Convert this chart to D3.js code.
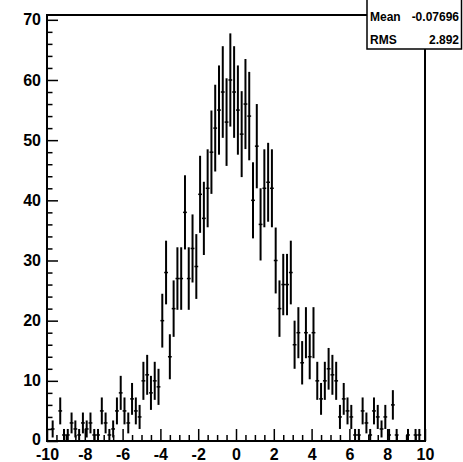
<!DOCTYPE html>
<html><head><meta charset="utf-8">
<script src="https://cdn.jsdelivr.net/npm/d3@7"></script>
<style>
html,body{margin:0;padding:0;background:#fff;}
svg{display:block;font-family:"Liberation Sans",Arial,Helvetica,sans-serif;font-weight:bold;}
</style></head>
<body>
<svg id="c" width="463" height="462"></svg>
<script>
// Histogram: 100 bins from -10 to 10 (bin width 0.2)
const binLow = -10, binHigh = 10, nBins = 100;
const counts = [
  0,2,0,5,1,1,3,2,1,3,
  2,3,1,1,5,3,1,2,5,8,
  5,3,7,5,4,10,11,8,10,9,
  20,28,14,22,27,27,38,27,32,29,
  41,37,42,48,52,55,58,53,60,58,
  55,51,56,54,40,49,36,42,43,42,
  30,22,26,26,28,16,18,13,18,14,
  18,10,7,10,12,11,10,4,7,5,
  4,1,1,5,3,1,5,4,2,4,
  1,6,1,0,0,1,0,1,1,0
];
const xMajorTicks = [-10,-8,-6,-4,-2,0,2,4,6,8,10];
const yMajorTicks = [0,10,20,30,40,50,60,70];
const statsLabels = ["Mean","RMS"];
const statsValues = ["-0.07696","2.892"];

const svg = d3.select("#c");
const L = 47, R = 425, T = 15, B = 441;
const x = d3.scaleLinear().domain([binLow, binHigh]).range([L, R]);
const y = d3.scaleLinear().domain([0, 70.8]).range([B, T]);
const bw = (binHigh - binLow) / nBins;

const bins = counts.map((c, i) => ({lo: binLow + i*bw, hi: binLow + (i+1)*bw, c}))
  .filter(d => d.c > 0);

// error bars
const g = svg.append("g").attr("stroke", "#000");
g.selectAll("line.v").data(bins).join("line").attr("class","v")
  .attr("x1", d => x((d.lo+d.hi)/2)).attr("x2", d => x((d.lo+d.hi)/2))
  .attr("y1", d => y(Math.max(0, d.c - Math.sqrt(d.c))))
  .attr("y2", d => y(d.c + Math.sqrt(d.c)))
  .attr("stroke-width", 2);
g.selectAll("line.h").data(bins).join("line").attr("class","h")
  .attr("x1", d => x(d.lo)).attr("x2", d => x(d.hi))
  .attr("y1", d => y(d.c)).attr("y2", d => y(d.c))
  .attr("stroke-width", 1.5);

// axes
const fs = 16;
const xMinor = d3.range(-10, 10.001, 0.5).filter(v => Math.abs(v/2 - Math.round(v/2)) > 1e-6);
const yMinor = d3.range(0, 70.8, 2).filter(v => v % 10 !== 0);

const ax = svg.append("g").attr("transform", `translate(0,${B})`)
  .call(d3.axisBottom(x).tickValues(xMajorTicks).tickSize(-12).tickPadding(8).tickFormat(d3.format("d")));
const axm = svg.append("g").attr("transform", `translate(0,${B})`)
  .call(d3.axisBottom(x).tickValues(xMinor).tickSize(-6).tickFormat(""));
const ay = svg.append("g").attr("transform", `translate(${L},0)`)
  .call(d3.axisLeft(y).tickValues(yMajorTicks).tickSize(-11).tickPadding(6).tickFormat(d3.format("d")));
const aym = svg.append("g").attr("transform", `translate(${L},0)`)
  .call(d3.axisLeft(y).tickValues(yMinor).tickSize(-5.5).tickFormat(""));
[ax, axm, ay, aym].forEach(a => {
  a.select(".domain").remove();
  a.selectAll("line").attr("stroke","#000").attr("stroke-width",1.5);
  a.selectAll("text").attr("fill","#000").style("font-size", fs+"px").style("font-weight","bold")
    .style("font-family","'Liberation Sans',Arial,sans-serif");
});
ax.selectAll("text").text(d => d3.format("d")(d).replace("−","-"));
ay.selectAll("text").filter(d => d === 0).attr("dy", "0.2em");

// frame
svg.append("rect").attr("x", L).attr("y", T).attr("width", R-L).attr("height", B-T)
  .attr("fill","none").attr("stroke","#000").attr("stroke-width",2);

// stats box
const sb = svg.append("g");
sb.append("rect").attr("x", 367).attr("y", -20).attr("width", 94.5).attr("height", 69)
  .attr("fill","#fff").attr("stroke","#000").attr("stroke-width",1.5);
const rowY = [21, 44.3];
statsLabels.forEach((t, i) => {
  sb.append("text").attr("x", 370).attr("y", rowY[i]).text(t)
    .style("font-size","12px").attr("fill","#000");
  sb.append("text").attr("x", 459).attr("y", rowY[i]).attr("text-anchor","end").text(statsValues[i])
    .style("font-size","12px").attr("fill","#000");
});
</script>
</body></html>
